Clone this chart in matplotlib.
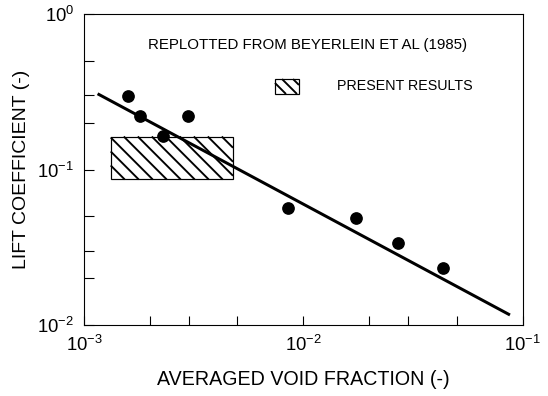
import numpy as np
import matplotlib
matplotlib.use("Agg")
import matplotlib.pyplot as plt
from matplotlib.patches import Rectangle
from matplotlib.collections import LineCollection
from matplotlib.transforms import IdentityTransform
from matplotlib.ticker import LogLocator, FixedLocator, NullFormatter

DPI = 100
PX = 72 / DPI   # points per pixel, sizes below are given in pixels

plt.rcParams["font.family"] = ["Liberation Sans", "DejaVu Sans"]
plt.rcParams["mathtext.fontset"] = "custom"
plt.rcParams["mathtext.rm"] = "Liberation Sans"
plt.rcParams["mathtext.it"] = "Liberation Sans"

# ── data ──────────────────────────────────────────────────────────────────────
void_frac = [1.58e-3, 1.80e-3, 2.29e-3, 2.97e-3, 8.5e-3, 1.74e-2, 2.70e-2, 4.32e-2]
lift_coef = [0.298, 0.222, 0.165, 0.222, 0.0568, 0.0490, 0.0335, 0.0231]

fit_x = [1.15e-3, 8.75e-2]
fit_y = [0.307, 0.0116]

present_x = [1.32e-3, 4.77e-3]      # void fraction range
present_y = [0.0863, 0.163]         # lift coefficient range


def add_hatch(ax, patch, step=14, lw=1.9):
    """back-slash hatching at a fixed pixel pitch, cut to the patch outline"""
    x0, y0, x1, y1 = patch.get_window_extent().extents
    cs = np.arange(x0 + y0, x1 + y1, step)[1:]
    segs = []
    for c in cs:
        xa = max(c - y1, x0)          # upper-left end
        xb = min(c - y0, x1)          # lower-right end
        if xb > xa:
            segs.append([(xa, c - xa), (xb, c - xb)])
    lc = LineCollection(segs, colors="black", linewidths=lw * PX,
                        transform=IdentityTransform(), zorder=patch.get_zorder())
    ax.add_collection(lc, autolim=False)


fig = plt.figure(figsize=(548 / DPI, 396 / DPI), dpi=DPI)
ax = fig.add_axes([0.1538, 0.1793, 0.80, 0.7853])

ax.set_xscale("log")
ax.set_yscale("log")
ax.set_xlim(1e-3, 1e-1)
ax.set_ylim(1e-2, 1e0)

# present results box
box = Rectangle((present_x[0], present_y[0]),
                present_x[1] - present_x[0], present_y[1] - present_y[0],
                facecolor="white", edgecolor="black", linewidth=1.2 * PX, zorder=2)
ax.add_patch(box)
add_hatch(ax, box)

ax.plot(fit_x, fit_y, color="black", linewidth=3.0 * PX, solid_capstyle="butt", zorder=3)
ax.plot(void_frac, lift_coef, "o", color="black", markersize=11.3 * PX, zorder=4)

# ticks: inward, only left/bottom, minor at 2,3,5
ax.xaxis.set_major_locator(FixedLocator([1e-3, 1e-2, 1e-1]))
ax.yaxis.set_major_locator(FixedLocator([1e-2, 1e-1, 1e0]))
ax.xaxis.set_minor_locator(LogLocator(base=10, subs=(2, 3, 5)))
ax.yaxis.set_minor_locator(LogLocator(base=10, subs=(2, 3, 5)))
ax.xaxis.set_minor_formatter(NullFormatter())
ax.yaxis.set_minor_formatter(NullFormatter())
ax.tick_params(which="both", direction="in", length=9.5 * PX, width=1.1 * PX,
               top=False, right=False, labelsize=18.5 * PX)
ax.tick_params(axis="x", pad=10 * PX)
ax.tick_params(axis="y", pad=10 * PX)
for s in ax.spines.values():
    s.set_linewidth(1.1 * PX)

ax.set_xlabel("AVERAGED VOID FRACTION (-)", fontsize=19.7 * PX, labelpad=15 * PX)
ax.set_ylabel("LIFT COEFFICIENT (-)", fontsize=19.5 * PX, labelpad=7 * PX)

# in-plot legend
ax.text(0.1453, 0.900, "REPLOTTED FROM BEYERLEIN ET AL (1985)",
        transform=ax.transAxes, fontsize=15.0 * PX, va="center", ha="left")
key = Rectangle((0.435, 0.7428), 0.0547, 0.048, transform=ax.transAxes,
                facecolor="white", edgecolor="black", linewidth=1.2 * PX)
ax.add_patch(key)
add_hatch(ax, key, step=11)
ax.text(0.5757, 0.767, "PRESENT RESULTS",
        transform=ax.transAxes, fontsize=14.3 * PX, va="center", ha="left")

fig.savefig("out.png", dpi=DPI)
